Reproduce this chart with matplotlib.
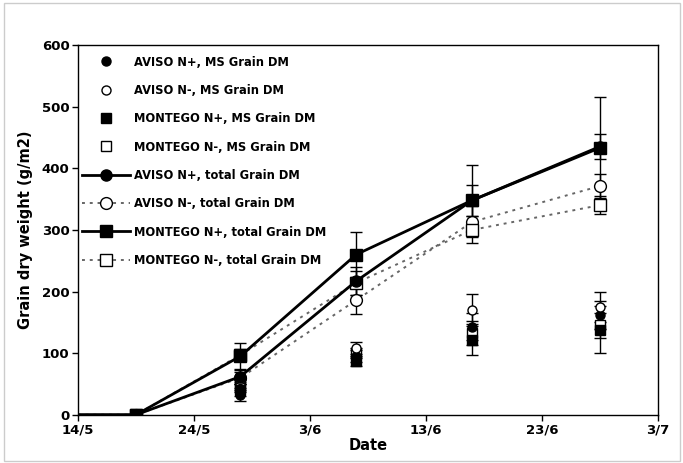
import datetime as dt
import matplotlib
matplotlib.use("Agg")
import matplotlib.pyplot as plt
import matplotlib.dates as mdates
from matplotlib.ticker import FuncFormatter
from matplotlib.patches import Rectangle

# ---------------- data ----------------
dates_total = ["2004-05-14", "2004-05-19", "2004-05-28", "2004-06-07", "2004-06-17", "2004-06-28"]
dates_ms = ["2004-05-19", "2004-05-28", "2004-06-07", "2004-06-17", "2004-06-28"]

aviso_np_ms = [0, 33, 95, 143, 162]
aviso_nm_ms = [0, 48, 108, 170, 175]
montego_np_ms = [0, 40, 88, 122, 138]
montego_nm_ms = [0, 45, 100, 133, 145]
aviso_np_ms_err = [0, 10, 10, 22, 22]
aviso_nm_ms_err = [0, 8, 10, 26, 25]
montego_np_ms_err = [0, 10, 8, 25, 38]
montego_nm_ms_err = [0, 8, 8, 20, 20]

aviso_np_tot = [0, 0, 62, 217, 348, 435]
aviso_nm_tot = [0, 0, 60, 186, 313, 371]
montego_np_tot = [0, 0, 95, 260, 348, 433]
montego_nm_tot = [0, 0, 97, 214, 300, 340]
aviso_np_tot_err = [0, 0, 12, 22, 25, 20]
aviso_nm_tot_err = [0, 0, 10, 22, 25, 20]
montego_np_tot_err = [0, 0, 22, 37, 58, 83]
montego_nm_tot_err = [0, 0, 10, 20, 22, 15]

labels = ["AVISO N+, MS Grain DM", "AVISO N-, MS Grain DM",
          "MONTEGO N+, MS Grain DM", "MONTEGO N-, MS Grain DM",
          "AVISO N+, total Grain DM", "AVISO N-, total Grain DM",
          "MONTEGO N+, total Grain DM", "MONTEGO N-, total Grain DM"]
y_ticks = [0, 100, 200, 300, 400, 500, 600]
x_ticks = ["2004-05-14", "2004-05-24", "2004-06-03", "2004-06-13", "2004-06-23", "2004-07-03"]

# ---------------- plot ----------------
def to_dt(lst):
    return [dt.datetime.strptime(s, "%Y-%m-%d") for s in lst]

xt = to_dt(dates_total)
xm = to_dt(dates_ms)

fig = plt.figure(figsize=(6.83, 4.63), dpi=100)
ax = fig.add_axes([0.114, 0.104, 0.849, 0.799])

fig.patches.append(Rectangle((0.006, 0.004), 0.99, 0.99, transform=fig.transFigure,
                             fill=False, edgecolor="#cccccc", linewidth=1.0))

eb_kw = dict(fmt="none", ecolor="black", elinewidth=1.0, capsize=4, capthick=1.0, zorder=2)

# error bars
for y, e in [(aviso_np_ms, aviso_np_ms_err), (aviso_nm_ms, aviso_nm_ms_err),
             (montego_np_ms, montego_np_ms_err), (montego_nm_ms, montego_nm_ms_err)]:
    ax.errorbar(xm, y, yerr=e, **eb_kw)
for y, e in [(aviso_np_tot, aviso_np_tot_err), (aviso_nm_tot, aviso_nm_tot_err),
             (montego_np_tot, montego_np_tot_err), (montego_nm_tot, montego_nm_tot_err)]:
    ax.errorbar(xt[1:], y[1:], yerr=e[1:], **eb_kw)

handles = []
ms_c, ms_s = 6.5, 7
h, = ax.plot(xm, aviso_np_ms, ls="none", marker="o", ms=ms_c, mfc="black", mec="black", zorder=4)
handles.append(h)
h, = ax.plot(xm, aviso_nm_ms, ls="none", marker="o", ms=ms_c, mfc="white", mec="black", zorder=4)
handles.append(h)
h, = ax.plot(xm, montego_np_ms, ls="none", marker="s", ms=ms_s, mfc="black", mec="black", zorder=4)
handles.append(h)
h, = ax.plot(xm, montego_nm_ms, ls="none", marker="s", ms=ms_s, mfc="white", mec="black", zorder=3)
handles.append(h)

mk = list(range(1, 6))
dot = (0, (1.5, 2.5))
h, = ax.plot(xt, aviso_np_tot, color="black", lw=2, marker="o", ms=8, mfc="black",
             mec="black", markevery=mk, zorder=5)
handles.append(h)
h, = ax.plot(xt, aviso_nm_tot, color="#666666", lw=1.4, ls=dot, marker="o", ms=8.5,
             mfc="white", mec="black", markevery=mk, zorder=4)
handles.append(h)
h, = ax.plot(xt, montego_np_tot, color="black", lw=2, marker="s", ms=8.5, mfc="black",
             mec="black", markevery=mk, zorder=5)
handles.append(h)
h, = ax.plot(xt, montego_nm_tot, color="#666666", lw=1.4, ls=dot, marker="s", ms=8.5,
             mfc="white", mec="black", markevery=mk, zorder=4)
handles.append(h)

ax.set_xlim(to_dt([x_ticks[0]])[0], to_dt([x_ticks[-1]])[0])
ax.set_ylim(0, 600)
ax.set_yticks(y_ticks)
ax.set_xticks(to_dt(x_ticks))
ax.xaxis.set_major_formatter(FuncFormatter(
    lambda v, p: "%d/%d" % (mdates.num2date(v).day, mdates.num2date(v).month)))

for lab in ax.get_xticklabels() + ax.get_yticklabels():
    lab.set_fontweight("bold")
    lab.set_fontsize(9.5)
ax.tick_params(direction="out", length=4, width=1, pad=2)
ax.set_ylabel("Grain dry weight (g/m2)", fontsize=10.5, fontweight="bold", labelpad=6)
ax.set_xlabel("Date", fontsize=10.5, fontweight="bold", labelpad=1)
for s in ax.spines.values():
    s.set_linewidth(1.0)

leg = ax.legend(handles, labels, loc="upper left", bbox_to_anchor=(-0.004, 0.99),
                frameon=False, prop={"weight": "bold", "size": 8.3},
                handlelength=4.1, handletextpad=0.4, labelspacing=1.33, borderaxespad=0.2)

fig.savefig("out.png", dpi=100)
